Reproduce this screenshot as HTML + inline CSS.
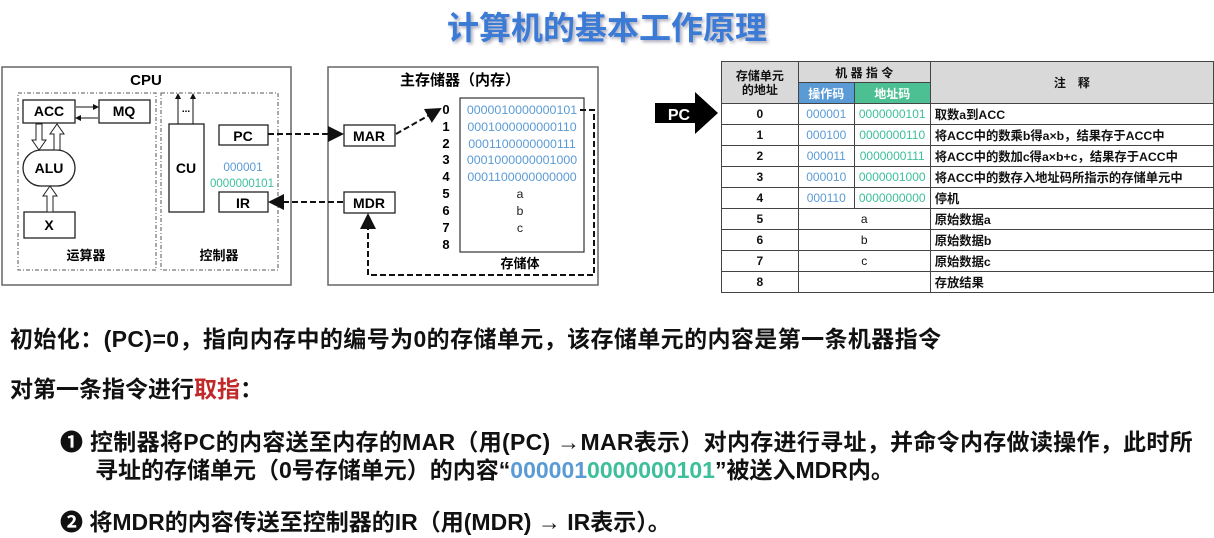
<!DOCTYPE html>
<html><head><meta charset="utf-8"><style>
*{margin:0;padding:0;box-sizing:border-box}
body{width:1214px;height:538px;background:#fff;position:relative;overflow:hidden;font-family:"Liberation Sans","Noto Sans CJK SC",sans-serif;color:#111}
.t{position:absolute;white-space:nowrap;font-weight:bold}
table{position:absolute;left:721px;top:61px;border-collapse:collapse;font-size:12px;font-weight:bold}
td{border:1px solid #444;height:21px;text-align:center;padding:0}
td.l{text-align:left;padding-left:4px;font-size:12.3px}
.b{color:#5b9bd5;font-weight:normal;font-size:12px}.g{color:#3cbf9a;font-weight:normal;font-size:12px}
</style></head><body>
<div class="t" style="left:0;width:1214px;top:3px;text-align:center;font-size:32px;color:#3b7bd6;text-shadow:2px 2px 3px #aab">计算机的基本工作原理</div>

<svg style="position:absolute;left:0;top:0" width="640" height="300" font-family="Liberation Sans,Noto Sans CJK SC,sans-serif" font-weight="bold">
<defs><marker id="a" markerWidth="8" markerHeight="8" refX="7" refY="4" orient="auto"><path d="M0,0L8,4L0,8z" fill="#111"/></marker>
<marker id="s" markerWidth="6" markerHeight="6" refX="5" refY="3" orient="auto"><path d="M0,0L6,3L0,6z" fill="#111"/></marker></defs>
<rect x="2" y="67" width="289" height="218" fill="none" stroke="#666" stroke-width="1.5"/>
<text x="146" y="85" text-anchor="middle" font-size="15">CPU</text>
<rect x="18" y="93" width="138" height="177" fill="none" stroke="#555" stroke-dasharray="4,2,1,2"/>
<rect x="161" y="93" width="117" height="177" fill="none" stroke="#555" stroke-dasharray="4,2,1,2"/>
<g fill="#fff" stroke="#222" stroke-width="1.3">
<rect x="23" y="100" width="52" height="23"/><rect x="99" y="100" width="51" height="23"/>
<rect x="23" y="150" width="52" height="36" rx="18"/>
<rect x="24" y="212" width="51" height="26"/>
<rect x="169" y="124" width="35" height="88"/>
<rect x="219" y="125" width="49" height="20"/><rect x="219" y="192" width="49" height="20"/>
</g>
<g font-size="14" text-anchor="middle">
<text x="49" y="116">ACC</text><text x="124" y="116">MQ</text><text x="49" y="173">ALU</text><text x="49" y="230">X</text>
<text x="186" y="173">CU</text><text x="243" y="141">PC</text><text x="243" y="208">IR</text>
<text x="186" y="112" font-size="10">...</text>
</g>
<line x1="76" y1="107" x2="98" y2="107" stroke="#111" marker-end="url(#s)"/>
<line x1="98" y1="118" x2="76" y2="118" stroke="#111" marker-end="url(#s)"/>
<g fill="#fff" stroke="#222">
<path d="M36,124V140H32L39,150L46,140H42V124Z"/>
<path d="M54,150V134H50L57,124L64,134H60V150Z"/>
<path d="M47,212V196H43L50,186L57,196H53V212Z"/>
</g>
<line x1="178" y1="124" x2="178" y2="94" stroke="#111" marker-end="url(#s)"/>
<line x1="193" y1="124" x2="193" y2="94" stroke="#111" marker-end="url(#s)"/>
<text x="243" y="171" text-anchor="middle" font-size="11.8" fill="#5b9bd5" font-weight="normal">000001</text>
<text x="242" y="187" text-anchor="middle" font-size="11.5" fill="#3cbf9a" font-weight="normal">0000000101</text>
<text x="86" y="260" text-anchor="middle" font-size="13">运算器</text>
<text x="219" y="260" text-anchor="middle" font-size="13">控制器</text>

<rect x="328" y="67" width="270" height="218" fill="none" stroke="#666" stroke-width="1.5"/>
<text x="460" y="85" text-anchor="middle" font-size="15">主存储器（内存）</text>
<rect x="344" y="125" width="51" height="21" fill="#fff" stroke="#222" stroke-width="1.3"/>
<rect x="344" y="192" width="51" height="21" fill="#fff" stroke="#222" stroke-width="1.3"/>
<text x="369" y="141" text-anchor="middle" font-size="14">MAR</text>
<text x="369" y="208" text-anchor="middle" font-size="14">MDR</text>
<rect x="460" y="98" width="124" height="154" fill="none" stroke="#333" stroke-width="1.2"/>
<g font-size="13" text-anchor="middle">
<text x="446" y="114">0</text><text x="446" y="131">1</text><text x="446" y="148">2</text><text x="446" y="164">3</text><text x="446" y="181">4</text><text x="446" y="198">5</text><text x="446" y="215">6</text><text x="446" y="232">7</text><text x="446" y="249">8</text>
</g>
<g font-size="12.4" font-weight="normal" text-anchor="middle">
<text x="522" y="114" fill="#5b9bd5">0000010000000101</text>
<text x="522" y="131" fill="#5b9bd5">0001000000000110</text>
<text x="522" y="148" fill="#5b9bd5">0001100000000111</text>
<text x="522" y="164" fill="#5b9bd5">0001000000001000</text>
<text x="522" y="181" fill="#5b9bd5">0001100000000000</text>
<text x="520" y="198" fill="#222">a</text><text x="520" y="215" fill="#222">b</text><text x="520" y="232" fill="#222">c</text>
</g>
<text x="520" y="268" text-anchor="middle" font-size="13">存储体</text>
<g stroke="#111" stroke-width="2" stroke-dasharray="6,3" fill="none">
<line x1="268" y1="134" x2="342" y2="134" marker-end="url(#a)"/>
<line x1="396" y1="134" x2="440" y2="109" marker-end="url(#a)"/>
<polyline points="580,110 594,110 594,275 368,275 368,215" marker-end="url(#a)"/>
<line x1="343" y1="202" x2="270" y2="202" marker-end="url(#a)"/>
</g>
</svg>

<svg style="position:absolute;left:655px;top:92px" width="64" height="42"><path d="M0,11H40V0L63,21L40,42V31H0Z" fill="#000"/><text x="24" y="28" text-anchor="middle" fill="#fff" font-size="16" font-weight="bold" font-family="Liberation Sans,sans-serif">PC</text></svg>

<table>
<tr><td rowspan="2" style="width:77px;background:#d9d9d9;line-height:14px">存储单元<br>的地址</td><td colspan="2" style="background:#d9d9d9">机 器 指 令</td><td rowspan="2" style="width:284px;background:#d9d9d9">注　释</td></tr>
<tr><td style="width:56px;background:#5b9bd5;color:#fff">操作码</td><td style="width:76px;background:#4cc093;color:#fff">地址码</td></tr>
<tr><td>0</td><td class="b">000001</td><td class="g">0000000101</td><td class="l">取数a到ACC</td></tr>
<tr><td>1</td><td class="b">000100</td><td class="g">0000000110</td><td class="l">将ACC中的数乘b得a×b，结果存于ACC中</td></tr>
<tr><td>2</td><td class="b">000011</td><td class="g">0000000111</td><td class="l">将ACC中的数加c得a×b+c，结果存于ACC中</td></tr>
<tr><td>3</td><td class="b">000010</td><td class="g">0000001000</td><td class="l">将ACC中的数存入地址码所指示的存储单元中</td></tr>
<tr><td>4</td><td class="b">000110</td><td class="g">0000000000</td><td class="l">停机</td></tr>
<tr><td>5</td><td colspan="2" style="font-weight:normal">a</td><td class="l">原始数据a</td></tr>
<tr><td>6</td><td colspan="2" style="font-weight:normal">b</td><td class="l">原始数据b</td></tr>
<tr><td>7</td><td colspan="2" style="font-weight:normal">c</td><td class="l">原始数据c</td></tr>
<tr><td>8</td><td colspan="2"></td><td class="l">存放结果</td></tr>
</table>

<div class="t" style="left:10px;top:320px;font-size:23px;letter-spacing:0.4px">初始化：(PC)=0，指向内存中的编号为0的存储单元，该存储单元的内容是第一条机器指令</div>
<div class="t" style="left:10px;top:370px;font-size:23px">对第一条指令进行<span style="color:#c0282a">取指</span>：</div>
<div class="t" style="left:60px;top:423px;font-size:23px;letter-spacing:0.3px">❶ 控制器将PC的内容送至内存的MAR（用(PC) →MAR表示）对内存进行寻址，并命令内存做读操作，此时所</div>
<div class="t" style="left:95px;top:451px;font-size:23px">寻址的存储单元（0号存储单元）的内容“<span style="color:#5b9bd5">000001</span><span style="color:#3cbf9a">0000000101</span>”被送入MDR内。</div>
<div class="t" style="left:60px;top:503px;font-size:23px">❷ 将MDR的内容传送至控制器的IR（用(MDR) → IR表示）。</div>
</body></html>
